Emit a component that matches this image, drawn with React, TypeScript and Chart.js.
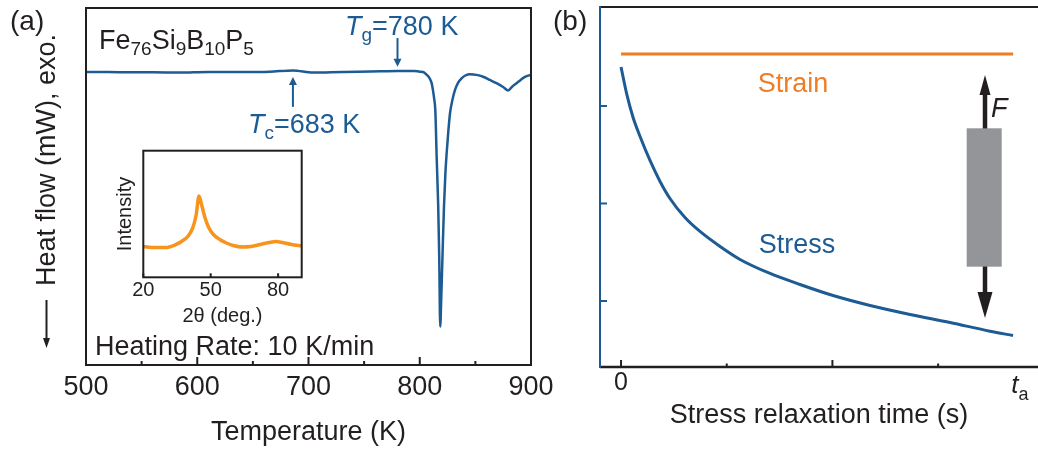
import React, { useEffect, useRef } from 'react';
import { Chart, registerables } from 'chart.js';

Chart.register(...registerables);

const FONT = '"Liberation Sans", Arial, Helvetica, sans-serif';
const INK = '#231f20';
const BLUE = '#1c5b93';
const ORANGE = '#f07d23';
const XRD_ORANGE = '#f7941e';
const GRAY = '#939598';

// ---------- Panel (a): DSC ----------
const dscTemperature = [500, 520, 540, 560, 584, 610, 640, 665, 686, 704, 720, 745, 765, 780, 795, 800, 803, 806, 808.5, 810.7, 812, 813, 814, 815.2, 816.6, 817.5, 818.4, 819.3, 820, 820.9, 821.8, 823, 824.2, 825.7, 827.2, 829.5, 831.7, 834.5, 837.6, 841, 845, 851, 857, 863, 869, 875, 879.5, 883, 887, 891, 894.6, 900];
const dscHeatFlow = [0.0, 0.0, -0.01, -0.01, -0.02, 0.0, 0.0, 0.01, 0.05, -0.02, -0.01, 0.01, 0.02, 0.03, 0.03, 0.01, 0.0, -0.08, -0.18, -0.35, -0.6, -0.85, -1.2, -2.65, -4.2, -5.77, -7.96, -7.1, -6.28, -5.2, -4.2, -3.2, -2.53, -1.85, -1.29, -0.85, -0.56, -0.33, -0.2, -0.11, -0.07, -0.09, -0.15, -0.25, -0.35, -0.47, -0.58, -0.46, -0.35, -0.24, -0.15, -0.09];
const dscXMin = 500;
const dscXMax = 900;
const dscYMin = -9.16;
const dscYMax = 2.0;
const dscMajorTicks = [500, 600, 700, 800, 900];
const dscMinorTicks = [550, 650, 750, 850];
// annotation arrows: [temperature, tail value, tip value]
const tgArrow = [780, 1.06, 0.16];
const tcArrow = [686, -1.09, -0.16];

// ---------- Inset: XRD ----------
const xrdTwoTheta = [20, 25, 30, 34, 37, 40, 42, 43.5, 44.8, 46, 47.5, 49, 51, 54, 57, 60, 64, 68, 72, 76, 79, 82, 86, 90.5];
const xrdIntensity = [24.3, 23.5, 23.5, 25.5, 28.3, 32.6, 39, 49, 64.2, 57, 46.8, 39.7, 34.2, 29.9, 27.1, 25.1, 23.9, 24.3, 25.9, 27.5, 28.3, 27.5, 25.9, 24.7];
const xrdTicks = [20, 50, 80];

// ---------- Panel (b): stress relaxation ----------
const relaxTime = [0, 0.057, 0.114, 0.18, 0.274, 0.369, 0.463, 0.605, 0.747, 0.937, 1.126, 1.41, 1.693, 2.006, 2.356, 2.734, 3.113, 3.491, 3.709];
const stressValues = [3.4, 3.108, 2.882, 2.687, 2.441, 2.226, 2.051, 1.856, 1.713, 1.559, 1.426, 1.282, 1.169, 1.056, 0.954, 0.862, 0.779, 0.69, 0.646];
const strainTime = [0, 3.71];
const strainValues = [3.533, 3.533];
const relaxXMin = -0.199;
const relaxXMax = 3.945;
const relaxYMin = 0.323;
const relaxYMax = 4.015;
const relaxMajorTicks = [0, 2];
const relaxMinorTicks = [1, 3];
const relaxYTicks = [1, 2, 3];
const taValue = 3.71;

const PANEL_B_LEFT = 545;

function fnt(size: number, italic = false) {
  return `${italic ? 'italic ' : ''}${size}px ${FONT}`;
}

type Part = { t: string; size?: number; italic?: boolean; dy?: number };
function drawRich(ctx: CanvasRenderingContext2D, x: number, y: number, parts: Part[], color: string) {
  ctx.save();
  ctx.fillStyle = color;
  ctx.textAlign = 'left';
  ctx.textBaseline = 'alphabetic';
  let cx = x;
  for (const p of parts) {
    ctx.font = fnt(p.size ?? 27, p.italic);
    ctx.fillText(p.t, cx, y + (p.dy ?? 0));
    cx += ctx.measureText(p.t).width;
  }
  ctx.restore();
}

function vArrow(ctx: CanvasRenderingContext2D, x: number, yTail: number, yTip: number, headLen: number, headW: number, lw: number, color: string) {
  const dir = Math.sign(yTip - yTail);
  const yBase = yTip - dir * headLen;
  ctx.save();
  ctx.strokeStyle = color;
  ctx.fillStyle = color;
  ctx.lineWidth = lw;
  ctx.beginPath();
  ctx.moveTo(x, yTail);
  ctx.lineTo(x, yBase + dir * 1);
  ctx.stroke();
  ctx.beginPath();
  ctx.moveTo(x, yTip);
  ctx.lineTo(x - headW / 2, yBase);
  ctx.lineTo(x + headW / 2, yBase);
  ctx.closePath();
  ctx.fill();
  ctx.restore();
}

function line(ctx: CanvasRenderingContext2D, x1: number, y1: number, x2: number, y2: number, lw: number, color: string) {
  ctx.save();
  ctx.strokeStyle = color;
  ctx.lineWidth = lw;
  ctx.beginPath();
  ctx.moveTo(x1, y1);
  ctx.lineTo(x2, y2);
  ctx.stroke();
  ctx.restore();
}

const panelAPlugin = {
  id: 'panelA',
  afterDraw(chart: any) {
    const { ctx, chartArea: ca, scales } = chart;
    const x = scales.x;
    const y = scales.y;
    ctx.save();
    ctx.strokeStyle = INK;
    ctx.lineWidth = 2;
    ctx.strokeRect(ca.left, ca.top, ca.right - ca.left, ca.bottom - ca.top);
    ctx.restore();
    for (const v of dscMajorTicks) {
      const px = x.getPixelForValue(v);
      line(ctx, px, ca.bottom, px, ca.bottom - 8, 2, INK);
    }
    for (const v of dscMinorTicks) {
      const px = x.getPixelForValue(v);
      line(ctx, px, ca.bottom, px, ca.bottom - 4, 2, INK);
    }
    vArrow(ctx, x.getPixelForValue(tgArrow[0]), y.getPixelForValue(tgArrow[1]), y.getPixelForValue(tgArrow[2]), 8, 8, 2, BLUE);
    vArrow(ctx, x.getPixelForValue(tcArrow[0]), y.getPixelForValue(tcArrow[1]), y.getPixelForValue(tcArrow[2]), 8, 8, 2, BLUE);
    drawRich(ctx, 345, 35, [{ t: 'T', italic: true }, { t: 'g', size: 19, dy: 6 }, { t: '=780 K' }], BLUE);
    drawRich(ctx, 248, 133, [{ t: 'T', italic: true }, { t: 'c', size: 19, dy: 6 }, { t: '=683 K' }], BLUE);
    drawRich(ctx, 99, 49, [
      { t: 'Fe' }, { t: '76', size: 19, dy: 6 }, { t: 'Si' }, { t: '9', size: 19, dy: 6 },
      { t: 'B' }, { t: '10', size: 19, dy: 6 }, { t: 'P' }, { t: '5', size: 19, dy: 6 },
    ], INK);
    drawRich(ctx, 95, 355, [{ t: 'Heating Rate: 10 K/min' }], INK);
    drawRich(ctx, 10, 30, [{ t: '(a)', size: 28 }], INK);
    ctx.save();
    ctx.translate(48, 160);
    ctx.rotate(-Math.PI / 2);
    ctx.font = fnt(27);
    ctx.fillStyle = INK;
    ctx.textAlign = 'center';
    ctx.textBaseline = 'middle';
    ctx.fillText('Heat flow (mW), exo.', 0, 0);
    ctx.restore();
    vArrow(ctx, 46.5, 300, 348, 10, 7, 2, INK);
  },
};

const insetPlugin = {
  id: 'inset',
  afterDraw(chart: any) {
    const { ctx, chartArea: ca, scales } = chart;
    ctx.save();
    ctx.strokeStyle = INK;
    ctx.lineWidth = 2;
    ctx.strokeRect(ca.left, ca.top, ca.right - ca.left, ca.bottom - ca.top);
    ctx.restore();
    for (const v of xrdTicks) {
      const px = scales.x.getPixelForValue(v);
      line(ctx, px, ca.bottom, px, ca.bottom - 4, 2, INK);
    }
  },
};

const panelBPlugin = {
  id: 'panelB',
  afterDraw(chart: any) {
    const { ctx, chartArea: ca, scales } = chart;
    const x = scales.x;
    const y = scales.y;
    const bx = (px: number) => px - PANEL_B_LEFT;
    line(ctx, ca.left, ca.top, ca.right, ca.top, 2, INK);
    line(ctx, ca.left, ca.bottom, ca.right, ca.bottom, 2.5, INK);
    line(ctx, ca.left, ca.top - 1, ca.left, ca.bottom + 1, 2, BLUE);
    for (const v of relaxYTicks) {
      const py = y.getPixelForValue(v);
      line(ctx, ca.left, py, ca.left + 7, py, 2, BLUE);
    }
    for (const v of relaxMajorTicks) {
      const px = x.getPixelForValue(v);
      line(ctx, px, ca.bottom, px, ca.bottom - 7, 2, INK);
    }
    for (const v of relaxMinorTicks) {
      const px = x.getPixelForValue(v);
      line(ctx, px, ca.bottom, px, ca.bottom - 3.5, 2, INK);
    }
    const tx = x.getPixelForValue(taValue);
    drawRich(ctx, tx - 2, 393, [{ t: 't', size: 26, italic: true }, { t: 'a', size: 18, dy: 7 }], INK);
    ctx.save();
    ctx.font = fnt(27);
    ctx.textAlign = 'center';
    ctx.textBaseline = 'alphabetic';
    ctx.fillStyle = ORANGE;
    ctx.fillText('Strain', bx(793), 92);
    ctx.fillStyle = BLUE;
    ctx.fillText('Stress', bx(797), 253);
    ctx.restore();
    ctx.save();
    ctx.fillStyle = GRAY;
    ctx.fillRect(bx(966.7), 128.3, 35, 138.4);
    ctx.restore();
    vArrow(ctx, bx(985), 128.5, 75, 20, 11, 4.5, INK);
    vArrow(ctx, bx(985), 266.5, 318, 26, 15, 4.5, INK);
    drawRich(ctx, bx(991), 117, [{ t: 'F', italic: true }], INK);
    drawRich(ctx, bx(553), 30, [{ t: '(b)', size: 28 }], INK);
  },
};

export default function App() {
  const aRef = useRef<HTMLCanvasElement>(null);
  const bRef = useRef<HTMLCanvasElement>(null);
  const insetRef = useRef<HTMLCanvasElement>(null);

  useEffect(() => {
    const common = {
      responsive: false,
      animation: false as const,
      devicePixelRatio: 1,
      events: [] as any[],
      plugins: { legend: { display: false }, tooltip: { enabled: false } },
    };

    const chartA = new Chart(aRef.current as HTMLCanvasElement, {
      type: 'line',
      data: {
        datasets: [
          {
            data: dscTemperature.map((t, i) => ({ x: t, y: dscHeatFlow[i] })),
            borderColor: BLUE,
            borderWidth: 2.5,
            pointRadius: 0,
            cubicInterpolationMode: 'monotone',
            fill: false,
          },
        ],
      },
      options: {
        ...common,
        layout: { padding: { left: 0, top: 8, right: 29, bottom: 0 } },
        scales: {
          x: {
            type: 'linear',
            min: dscXMin,
            max: dscXMax,
            afterBuildTicks: (s: any) => { s.ticks = dscMajorTicks.map((v) => ({ value: v })); },
            afterFit: (s: any) => { s.height = 86; },
            grid: { display: false, drawTicks: false },
            border: { display: false },
            ticks: { font: { family: FONT, size: 27 }, color: INK, padding: 6, maxRotation: 0, autoSkip: false },
            title: { display: true, text: 'Temperature (K)', font: { family: FONT, size: 27 }, color: INK, padding: { top: 0, bottom: 2 } },
          },
          y: {
            type: 'linear',
            min: dscYMin,
            max: dscYMax,
            afterFit: (s: any) => { s.width = 86; },
            grid: { display: false, drawTicks: false },
            border: { display: false },
            ticks: { display: false },
          },
        },
      } as any,
      plugins: [panelAPlugin],
    });

    const chartInset = new Chart(insetRef.current as HTMLCanvasElement, {
      type: 'line',
      data: {
        datasets: [
          {
            data: xrdTwoTheta.map((t, i) => ({ x: t, y: xrdIntensity[i] })),
            borderColor: XRD_ORANGE,
            borderWidth: 3.5,
            pointRadius: 0,
            cubicInterpolationMode: 'monotone',
            fill: false,
          },
        ],
      },
      options: {
        ...common,
        layout: { padding: { left: 0, top: 10.7, right: 8.3, bottom: 0 } },
        scales: {
          x: {
            type: 'linear',
            min: 20,
            max: 90.5,
            afterBuildTicks: (s: any) => { s.ticks = xrdTicks.map((v) => ({ value: v })); },
            afterFit: (s: any) => { s.height = 62.7; },
            grid: { display: false, drawTicks: false },
            border: { display: false },
            ticks: { font: { family: FONT, size: 20 }, color: INK, padding: 1, maxRotation: 0, autoSkip: false },
            title: { display: true, text: '2θ (deg.)', font: { family: FONT, size: 20 }, color: INK, padding: { top: 0, bottom: 12 } },
          },
          y: {
            type: 'linear',
            min: 0,
            max: 100,
            afterFit: (s: any) => { s.width = 43.3; },
            grid: { display: false, drawTicks: false },
            border: { display: false },
            ticks: { display: false },
            title: { display: true, text: 'Intensity', font: { family: FONT, size: 20 }, color: INK, padding: { top: 13, bottom: 0 } },
          },
        },
      } as any,
      plugins: [insetPlugin],
    });

    const chartB = new Chart(bRef.current as HTMLCanvasElement, {
      type: 'line',
      data: {
        datasets: [
          {
            data: strainTime.map((t, i) => ({ x: t, y: strainValues[i] })),
            borderColor: ORANGE,
            borderWidth: 3,
            pointRadius: 0,
            fill: false,
          },
          {
            data: relaxTime.map((t, i) => ({ x: t, y: stressValues[i] })),
            borderColor: BLUE,
            borderWidth: 3,
            pointRadius: 0,
            cubicInterpolationMode: 'monotone',
            fill: false,
          },
        ],
      },
      options: {
        ...common,
        layout: { padding: { left: 0, top: 7, right: 0, bottom: 0 } },
        scales: {
          x: {
            type: 'linear',
            min: relaxXMin,
            max: relaxXMax,
            afterBuildTicks: (s: any) => { s.ticks = [{ value: 0 }]; },
            afterFit: (s: any) => { s.height = 84; },
            grid: { display: false, drawTicks: false },
            border: { display: false },
            ticks: { font: { family: FONT, size: 25 }, color: INK, padding: 1, maxRotation: 0, autoSkip: false },
            title: { display: true, text: 'Stress relaxation time (s)', font: { family: FONT, size: 27 }, color: INK, padding: { top: 0, bottom: 19 } },
          },
          y: {
            type: 'linear',
            min: relaxYMin,
            max: relaxYMax,
            afterFit: (s: any) => { s.width = 55; },
            grid: { display: false, drawTicks: false },
            border: { display: false },
            ticks: { display: false },
          },
        },
      } as any,
      plugins: [panelBPlugin],
    });

    return () => {
      chartA.destroy();
      chartInset.destroy();
      chartB.destroy();
    };
  }, []);

  return (
    <div style={{ position: 'absolute', left: 0, top: 0, width: 1038, height: 451, background: '#ffffff', overflow: 'hidden' }}>
      <canvas ref={aRef} width={560} height={451} style={{ position: 'absolute', left: 0, top: 0, width: 560, height: 451 }} />
      <canvas ref={bRef} width={493} height={451} style={{ position: 'absolute', left: PANEL_B_LEFT, top: 0, width: 493, height: 451 }} />
      <canvas ref={insetRef} width={210} height={200} style={{ position: 'absolute', left: 100, top: 140, width: 210, height: 200 }} />
    </div>
  );
}
